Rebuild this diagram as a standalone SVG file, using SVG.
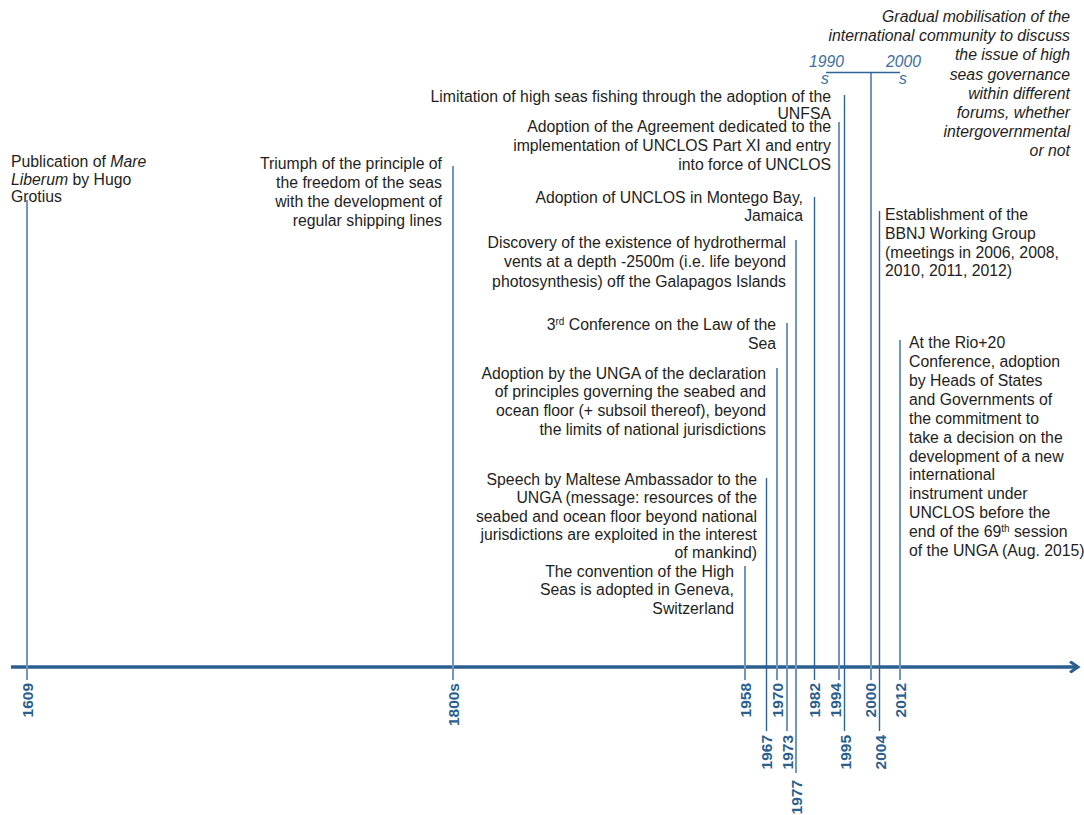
<svg xmlns="http://www.w3.org/2000/svg" width="1084" height="815" viewBox="0 0 1084 815">
<defs>
<style>
.t{font-family:"Liberation Sans",Arial,sans-serif;font-size:15.8px;fill:#1e1e1e}
.r{text-anchor:end}
.i{font-style:italic}
.yr{font-family:"Liberation Sans",Arial,sans-serif;font-size:15.5px;font-weight:bold;fill:#2a5f8f;text-anchor:end}
.dec{font-family:"Liberation Sans",Arial,sans-serif;font-size:15.7px;font-style:italic;fill:#3a6ea5;text-anchor:middle}
.sup{font-size:10px}
.ln{stroke:#2f6497;stroke-width:1.4;fill:none}
.lt{stroke:#6f97c0;stroke-width:2;fill:none}
.ax{stroke:#2a5f8f;stroke-width:3.5;fill:none}
</style>
<marker id="arr" markerWidth="12" markerHeight="12" refX="9" refY="6" orient="auto" markerUnits="userSpaceOnUse">
<path d="M1,0.5 L9,6 L1,11.5" fill="none" stroke="#2a5f8f" stroke-width="3"/>
</marker>
</defs>
<rect width="1084" height="815" fill="#ffffff"/>

<g id="connectors">
<line class="ax" x1="11" y1="667" x2="1078" y2="667" marker-end="url(#arr)"/>
<line class="lt" x1="27" y1="200" x2="27" y2="680"/>
<line class="lt" x1="453" y1="166" x2="453" y2="680"/>
<line class="lt" x1="745" y1="566" x2="745" y2="680"/>
<line class="ln" x1="766.5" y1="478" x2="766.5" y2="731"/>
<line class="lt" x1="777" y1="368" x2="777" y2="680"/>
<line class="lt" x1="787" y1="323" x2="787" y2="731"/>
<line class="lt" x1="796" y1="240" x2="796" y2="773"/>
<line class="ln" x1="814.5" y1="197" x2="814.5" y2="680"/>
<line class="lt" x1="839" y1="122" x2="839" y2="680"/>
<line class="ln" x1="844.5" y1="95" x2="844.5" y2="731"/>
<line class="lt" x1="871" y1="72" x2="871" y2="680"/>
<line class="ln" x1="879.5" y1="211" x2="879.5" y2="731"/>
<line class="lt" x1="900" y1="340" x2="900" y2="680"/>
<line class="ln" x1="826" y1="72.5" x2="900" y2="72.5"/>
</g>

<g id="axis-labels">
<text class="yr" transform="translate(33,683) rotate(-90)">1609</text>
<text class="yr" transform="translate(459,683) rotate(-90)">1800s</text>
<text class="yr" transform="translate(751,683) rotate(-90)">1958</text>
<text class="yr" transform="translate(772,735) rotate(-90)">1967</text>
<text class="yr" transform="translate(783,683) rotate(-90)">1970</text>
<text class="yr" transform="translate(793,735) rotate(-90)">1973</text>
<text class="yr" transform="translate(802,780) rotate(-90)">1977</text>
<text class="yr" transform="translate(820,683) rotate(-90)">1982</text>
<text class="yr" transform="translate(841,683) rotate(-90)">1994</text>
<text class="yr" transform="translate(851,735) rotate(-90)">1995</text>
<text class="yr" transform="translate(876,683) rotate(-90)">2000</text>
<text class="yr" transform="translate(886,735) rotate(-90)">2004</text>
<text class="yr" transform="translate(906,683) rotate(-90)">2012</text>
</g>

<g id="n1609">
<text class="t" x="11" y="167">Publication of <tspan class="i">Mare</tspan></text>
<text class="t" x="11" y="185"><tspan class="i">Liberum</tspan> by Hugo</text>
<text class="t" x="11" y="202">Grotius</text>
</g>

<g id="n1800s">
<text class="t r" x="442" y="169">Triumph of the principle of</text>
<text class="t r" x="442" y="188">the freedom of the seas</text>
<text class="t r" x="442" y="207">with the development of</text>
<text class="t r" x="442" y="226">regular shipping lines</text>
</g>

<g id="n1995">
<text class="t r" x="831" y="102">Limitation of high seas fishing through the adoption of the</text>
<text class="t r" x="831" y="119">UNFSA</text>
</g>

<g id="n1994">
<text class="t r" x="831" y="132">Adoption of the Agreement dedicated to the</text>
<text class="t r" x="831" y="151">implementation of UNCLOS Part XI and entry</text>
<text class="t r" x="831" y="170">into force of UNCLOS</text>
</g>

<g id="n1982">
<text class="t r" x="803" y="203">Adoption of UNCLOS in Montego Bay,</text>
<text class="t r" x="803" y="221">Jamaica</text>
</g>

<g id="n1977">
<text class="t r" x="786" y="248">Discovery of the existence of hydrothermal</text>
<text class="t r" x="786" y="267">vents at a depth -2500m (i.e. life beyond</text>
<text class="t r" x="786" y="287">photosynthesis) off the Galapagos Islands</text>
</g>

<g id="n1973">
<text class="t r" x="776" y="330">3<tspan class="sup" dy="-5">rd</tspan><tspan dy="5"> Conference on the Law of the</tspan></text>
<text class="t r" x="776" y="349">Sea</text>
</g>

<g id="n1970">
<text class="t r" x="766" y="379">Adoption by the UNGA of the declaration</text>
<text class="t r" x="766" y="397">of principles governing the seabed and</text>
<text class="t r" x="766" y="416">ocean floor (+ subsoil thereof), beyond</text>
<text class="t r" x="766" y="435">the limits of national jurisdictions</text>
</g>

<g id="n1967">
<text class="t r" x="757" y="485">Speech by Maltese Ambassador to the</text>
<text class="t r" x="757" y="503">UNGA (message: resources of the</text>
<text class="t r" x="757" y="522">seabed and ocean floor beyond national</text>
<text class="t r" x="757" y="540">jurisdictions are exploited in the interest</text>
<text class="t r" x="757" y="558">of mankind)</text>
</g>

<g id="n1958">
<text class="t r" x="734" y="577">The convention of the High</text>
<text class="t r" x="734" y="595">Seas is adopted in Geneva,</text>
<text class="t r" x="734" y="614">Switzerland</text>
</g>

<g id="n2004">
<text class="t" x="885" y="220">Establishment of the</text>
<text class="t" x="885" y="239">BBNJ Working Group</text>
<text class="t" x="885" y="258">(meetings in 2006, 2008,</text>
<text class="t" x="885" y="276">2010, 2011, 2012)</text>
</g>

<g id="n2012">
<text class="t" x="909" y="348">At the Rio+20</text>
<text class="t" x="909" y="367">Conference, adoption</text>
<text class="t" x="909" y="386">by Heads of States</text>
<text class="t" x="909" y="405">and Governments of</text>
<text class="t" x="909" y="424">the commitment to</text>
<text class="t" x="909" y="442.5">take a decision on the</text>
<text class="t" x="909" y="461.5">development of a new</text>
<text class="t" x="909" y="480">international</text>
<text class="t" x="909" y="499">instrument under</text>
<text class="t" x="909" y="518">UNCLOS before the</text>
<text class="t" x="909" y="537">end of the 69<tspan class="sup" dy="-5">th</tspan><tspan dy="5"> session</tspan></text>
<text class="t" x="909" y="556">of the UNGA (Aug. 2015)</text>
</g>

<g id="n2000s">
<text class="dec" x="826.5" y="67">1990</text>
<text class="dec" x="825" y="84">s</text>
<text class="dec" x="903.5" y="67">2000</text>
<text class="dec" x="903" y="84">s</text>
<text class="t r i" x="1070" y="22">Gradual mobilisation of the</text>
<text class="t r i" x="1070" y="41">international community to discuss</text>
<text class="t r i" x="1070" y="60">the issue of high</text>
<text class="t r i" x="1070" y="80">seas governance</text>
<text class="t r i" x="1070" y="99">within different</text>
<text class="t r i" x="1070" y="118">forums, whether</text>
<text class="t r i" x="1070" y="137">intergovernmental</text>
<text class="t r i" x="1070" y="156">or not</text>
</g>
</svg>
